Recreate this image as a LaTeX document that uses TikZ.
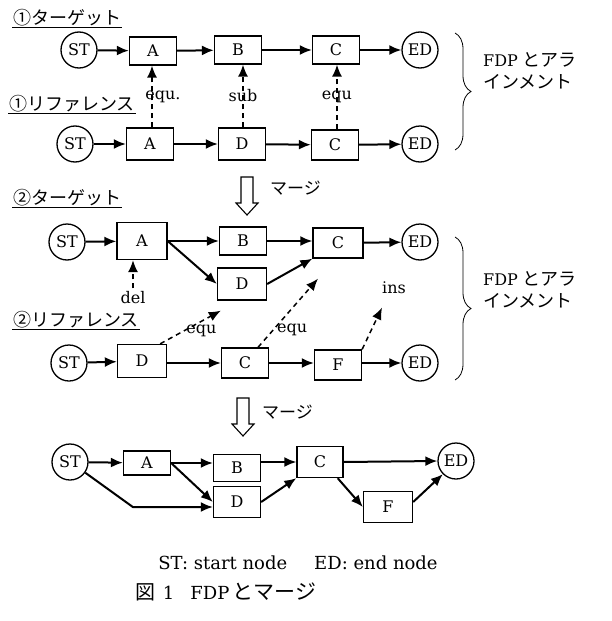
\documentclass[tikz,border=0pt]{standalone}
\usepackage{fontspec}
\setmainfont{DejaVu Serif}
\newfontfamily\jp{Noto Sans CJK JP}
\usetikzlibrary{arrows.meta,decorations.pathreplacing}
\begin{document}
\begin{tikzpicture}[x=1pt,y=-1pt,>={Latex[length=12pt,width=10pt]},
  font=\fontsize{16}{22}\selectfont,
  term/.style={draw,circle,line width=1.3pt,minimum size=36pt,inner sep=0pt},
  blk/.style={draw,rectangle,line width=1.3pt,minimum width=47pt,minimum height=28pt,inner sep=0pt},
  flow/.style={->,line width=2pt},
  match/.style={->,line width=1.5pt,dash pattern=on 5pt off 4pt},
  ttl/.style={inner sep=1pt,anchor=west,font=\fontsize{18}{22}\selectfont\jp}]
  \useasboundingbox (0,0) rectangle (612,621);
  % (1) target / reference
  \node[ttl] (t1) at (12,18) {①ターゲット};
  \draw[line width=0.8pt] (t1.south west) -- (t1.south east);
  \node[term] (s1) at (79,50) {ST};
  \node[blk] (a1) at (153,51) {A};
  \node[blk] (b1) at (238,50) {B};
  \node[blk] (c1) at (336,50) {C};
  \node[term] (e1) at (420,50) {ED};
  \draw[flow] (s1) -- (a1);
  \draw[flow] (a1) -- (b1);
  \draw[flow] (b1) -- (c1);
  \draw[flow] (c1) -- (e1);
  \node[ttl] (r1) at (8,104) {①リファレンス};
  \draw[line width=0.8pt] (r1.south west) -- (r1.south east);
  \node[term] (s1r) at (75,144) {ST};
  \node[blk,minimum height=32pt] (a1r) at (150,144) {A};
  \node[blk,minimum height=32pt] (d1r) at (242,144) {D};
  \node[blk,minimum height=30pt] (c1r) at (335,145) {C};
  \node[term] (e1r) at (420,144) {ED};
  \draw[flow] (s1r) -- (a1r);
  \draw[flow] (a1r) -- (d1r);
  \draw[flow] (d1r) -- (c1r);
  \draw[flow] (c1r) -- (e1r);
  \draw[match] ([xshift=2pt]a1r.north) -- ([xshift=2pt]a1r.north |- a1.south) node[midway,xshift=11pt] {equ.};
  \draw[match] ([xshift=1pt]d1r.north) -- ([xshift=1pt]d1r.north |- b1.south) node[midway] {sub};
  \draw[match] ([xshift=2pt]c1r.north) -- ([xshift=2pt]c1r.north |- c1.south) node[midway] {equ};
  \draw[line width=0.8pt,decorate,decoration={brace,amplitude=16pt,aspect=0.5}] (455,33) -- (455,150);
  \node[align=left,anchor=west,inner sep=0pt] (n1) at (483,71) {FDP {\fontsize{18}{23}\selectfont\jp とアラ}\\{\fontsize{18}{23}\selectfont\jp インメント}};
  % merge arrows
  \foreach \mx/\my in {247/177, 243/398}
    \draw[line width=1.1pt] (\mx-6,\my) -- ++(0,26) -- ++(-5,0) -- ++(11,12) -- ++(11,-12) -- ++(-5,0) -- ++(0,-26) -- cycle;
  \node[anchor=west,inner sep=0pt,font=\fontsize{17}{22}\selectfont\jp] (m1) at (270,188) {マージ};
  % (2) target / reference
  \node[ttl] (t2) at (12,198) {②ターゲット};
  \draw[line width=0.8pt] (t2.south west) -- (t2.south east);
  \node[term] (s2) at (67,242) {ST};
  \node[blk,minimum width=50pt,minimum height=37pt] (a2) at (142,241) {A};
  \node[blk] (b2) at (243,241) {B};
  \node[blk,minimum width=50pt,minimum height=30pt] (c2) at (338,243) {C};
  \node[blk,minimum width=49pt,minimum height=32pt] (d2) at (242,284) {D};
  \node[term] (e2) at (420,242) {ED};
  \draw[flow] (s2) -- (a2);
  \draw[flow] (a2) -- (b2);
  \draw[flow] (a2.east) -- (d2.west);
  \draw[flow] (b2.east) -- (b2.east -| c2.west);
  \draw[flow] (d2.east) -- (c2.south west);
  \draw[flow] (c2) -- (e2);
  \node (del) at (133,298) {del};
  \draw[match] (del.north) -- ([xshift=-9pt]a2.south);
  \node[ttl] (r2) at (12,320) {②リファレンス};
  \draw[line width=0.8pt] (r2.south west) -- (r2.south east);
  \node[term] (s2r) at (69,363) {ST};
  \node[blk,minimum width=49pt,minimum height=33pt] (d2r) at (142,361) {D};
  \node[blk,minimum height=30pt] (c2r) at (245,363) {C};
  \node[blk,minimum height=30pt] (f2r) at (338,365) {F};
  \node[term] (e2r) at (420,363) {ED};
  \draw[flow] (s2r) -- (d2r);
  \draw[flow] (d2r.east |- c2r) -- (c2r.west);
  \draw[flow] (c2r.east) -- (c2r.east -| f2r.west);
  \draw[flow] (f2r.east |- e2r) -- (e2r);
  \node (ins) at (394,288) {ins};
  \draw[match] ([xshift=-7pt]d2r.north east) -- ([xshift=4pt,yshift=-10pt]d2.south west) node[midway,xshift=11pt,yshift=-4pt] {equ};
  \draw[match] ([xshift=13pt]c2r.north) -- ([xshift=-20pt,yshift=-20pt]c2.south) node[pos=0.25,right] {equ};
  \draw[match] (f2r.north east) -- ([xshift=-12pt,yshift=-10pt]ins.south);
  \draw[line width=0.8pt,decorate,decoration={brace,amplitude=16pt,aspect=0.5}] (455,237) -- (455,380);
  \node[align=left,anchor=west,inner sep=0pt] (n2) at (483,290) {FDP {\fontsize{18}{23}\selectfont\jp とアラ}\\{\fontsize{18}{23}\selectfont\jp インメント}};
  \node[anchor=west,inner sep=0pt,font=\fontsize{17}{22}\selectfont\jp] (m2) at (262,412) {マージ};
  % merged FDP
  \node[term] (s3) at (70,462) {ST};
  \node[blk,minimum height=24pt] (a3) at (147,463) {A};
  \node[blk,minimum height=27pt] (b3) at (237,468) {B};
  \node[blk,minimum height=31pt] (d3) at (237,502) {D};
  \node[blk,minimum width=46pt,minimum height=31pt] (c3) at (320,462) {C};
  \node[blk,minimum width=49pt,minimum height=31pt] (f3) at (388,507) {F};
  \node[term] (e3) at (456,461) {ED};
  \draw[flow] (s3) -- (a3);
  \draw[flow] (a3.east) -- (a3.east -| b3.west);
  \draw[flow] (a3.east) -- (d3.west);
  \draw[flow] (s3.-35) -- ([xshift=-80pt,yshift=-5pt]d3.west) -- ([yshift=-5pt]d3.west);
  \draw[flow] (b3.east |- c3.west) -- (c3.west);
  \draw[flow] (d3.east) -- (c3.south west);
  \draw[flow] (c3.east) -- (e3.west);
  \draw[flow] ([xshift=-6pt]c3.south east) -- (f3.west);
  \draw[flow] ([yshift=5pt]f3.east) -- (e3.south west);
  % legend and caption
  \node[font=\fontsize{18}{22}\selectfont] (lg) at (298,563) {ST: start node\hspace{27pt}ED: end node};
  \node[font=\fontsize{18}{22}\selectfont] (cap) at (226,592) {{\fontsize{20}{22}\selectfont\jp 図}\hspace{7pt}1\hspace{16pt}FDP\hspace{3pt}{\fontsize{21}{22}\selectfont\jp とマージ}};
\end{tikzpicture}
\end{document}
